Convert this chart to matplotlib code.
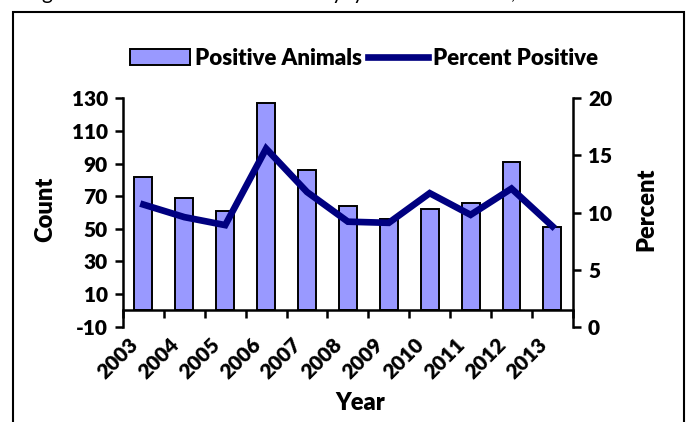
import matplotlib
matplotlib.use('Agg')
import matplotlib.pyplot as plt
import matplotlib.transforms as mtransforms
from matplotlib.patches import Rectangle, Patch
from matplotlib.lines import Line2D
import numpy as np

years = ['2003', '2004', '2005', '2006', '2007', '2008',
         '2009', '2010', '2011', '2012', '2013']
positive_animals = [82, 69, 61, 127, 86, 64, 56, 62, 66, 91, 51]
percent_positive = [10.7, 9.6, 8.9, 15.6, 11.8, 9.2, 9.1, 11.7, 9.8, 12.1, 8.8]

bar_color = '#9999ff'
line_color = '#000080'

plt.rcParams['font.family'] = ['Lato', 'DejaVu Sans']
plt.rcParams['font.weight'] = 'heavy'
plt.rcParams['axes.unicode_minus'] = False
fs = 15

fig = plt.figure(figsize=(6.91, 4.22), dpi=100)
ax = fig.add_axes([0.178, 0.2258, 0.651, 0.541])
ax2 = ax.twinx()

x = np.arange(len(years))
ax.bar(x, positive_animals, width=0.44, color=bar_color,
       edgecolor='black', linewidth=1.4, zorder=2)
ax2.plot(x, percent_positive, color=line_color, linewidth=4.8,
         solid_joinstyle='miter', zorder=3)

ax.set_xlim(-0.5, len(years) - 0.5)
ax.set_ylim(-10, 130)
ax.set_yticks(np.arange(-10, 131, 20))
ax2.set_ylim(0, 20)
ax2.set_yticks(np.arange(0, 21, 5))

# category axis sits at count 0, year labels on the tick marks between bars
ax.spines['bottom'].set_position(('data', 0))
ax.set_xticks(np.arange(len(years) + 1) - 0.5)
ax.set_xticklabels([])
offset = mtransforms.ScaledTranslation(5 / 100, -24 / 100, fig.dpi_scale_trans)
for i, yr in enumerate(years):
    ax.text(i - 0.5, 0, yr, rotation=45, ha='right', va='top',
            rotation_mode='anchor', fontsize=fs,
            transform=ax.transData + offset)

for a in (ax, ax2):
    a.spines['top'].set_visible(False)
    for s in a.spines.values():
        s.set_linewidth(1.8)
    a.tick_params(width=1.8, length=6, labelsize=fs, pad=5)
ax.spines['right'].set_visible(False)
ax2.spines['left'].set_visible(False)
ax2.spines['bottom'].set_visible(False)

fig.text(0.065, 0.503, 'Count', rotation=90, ha='center', va='center',
         fontsize=fs + 2)
fig.text(0.935, 0.503, 'Percent', rotation=90, ha='center', va='center',
         fontsize=fs + 2)
fig.text(0.522, 0.045, 'Year', ha='center', va='center', fontsize=fs + 2)

handles = [Patch(facecolor=bar_color, edgecolor='black', linewidth=1.4),
           Line2D([0], [0], color=line_color, linewidth=4.8)]
fig.legend(handles, ['Positive Animals', 'Percent Positive'],
           loc='center', bbox_to_anchor=(0.527, 0.862), ncol=2, frameon=False,
           handlelength=2.7, handletextpad=0.25, columnspacing=0.25,
           prop={'weight': 'heavy', 'size': 16})

# chart border, runs off the bottom of the picture
fig.patches.append(Rectangle((13 / 691, -0.1), 671 / 691, 1.1 - 12 / 422,
                             transform=fig.transFigure, fill=False,
                             edgecolor='black', linewidth=1.5))

# caption above the chart, clipped by the top edge
for cx, ch in [(47, 'g'), (337, 'y'), (358, 'y'), (513, ',')]:
    fig.text(cx / 691, 1.003, ch, ha='center', va='baseline',
             fontsize=15, fontweight='normal')

fig.savefig('out.png', dpi=100)
